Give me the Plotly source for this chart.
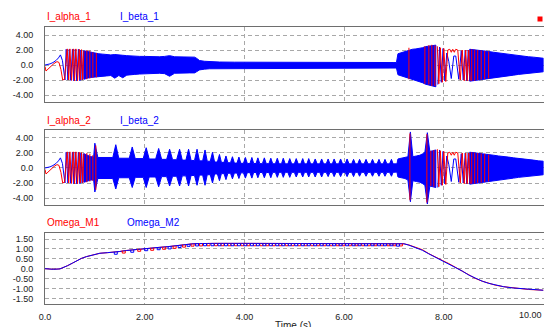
import plotly.graph_objects as go

W, H = 544, 327
RED = '#ff0000'
BLUE = '#0000ff'

# ---------------- data ----------------
# start-up transient (both drives look alike)
START_RED_T = [0.00, 0.02, 0.06, 0.12, 0.18, 0.24, 0.28, 0.32, 0.355, 0.39, 0.447, 0.475, 0.50, 0.533,
               0.567, 0.593, 0.62, 0.653, 0.687, 0.71, 0.733, 0.757, 0.78]
START_RED_V = [-0.2, -0.8, -0.55, -0.1, 0.2, 0.45, 0.35, -0.6, -2.0, -1.9, 2.15, -2.0, 2.15, -2.05,
               2.15, -2.1, 2.15, -2.1, 2.1, -2.0, 2.05, -1.95, 1.9]
START_BLUE_T = [0.00, 0.05, 0.10, 0.16, 0.22, 0.27, 0.31, 0.35, 0.40, 0.425, 0.46, 0.487, 0.517, 0.55,
                0.58, 0.607, 0.637, 0.67, 0.70, 0.72, 0.745, 0.77, 0.79]
START_BLUE_V = [0.0, 0.05, 0.15, 0.33, 0.6, 0.95, 1.35, 0.6, -2.0, 2.1, -2.0, 2.1, -2.05, 2.1,
                -2.1, 2.1, -2.1, 2.1, -2.1, 2.0, -2.0, 1.9, -1.85]

# zero-speed crossing (slow oscillation)
MID_RED_T = [7.87, 7.90, 7.93, 7.97, 8.00, 8.04, 8.08, 8.12, 8.15, 8.18, 8.21, 8.24, 8.28, 8.33,
             8.37, 8.41, 8.44, 8.47, 8.50, 8.53]
MID_RED_V = [2.5, -2.5, 2.3, -2.3, 2.2, -2.2, 2.0, 2.1, 1.7, 2.1, 1.7, 2.1, 2.0, -2.0,
             2.0, -2.1, 2.0, -2.1, 2.0, -2.1]
MID_BLUE_T = [7.88, 7.915, 7.95, 7.985, 8.02, 8.06, 8.10, 8.15, 8.20, 8.24, 8.30, 8.35, 8.39, 8.43,
              8.46, 8.49, 8.52, 8.55]
MID_BLUE_V = [-2.6, 2.4, -2.3, 2.2, -2.1, 1.6, 0.5, -1.8, 1.2, 1.2, -1.9, 1.9, -2.0, 2.0,
              -2.1, 2.0, -2.1, 2.0]

# envelope of the dense oscillation, panel 1
P1_BAND_T = [0.78, 0.85, 0.92, 1.00, 1.08, 1.16, 1.24, 1.32, 1.40, 1.48, 1.56, 1.64, 1.72, 1.80,
             1.90, 2.00, 2.10, 2.20, 2.30, 2.40, 2.50, 2.60, 2.70, 2.80, 2.90, 3.00, 3.04, 3.10,
             3.20, 3.30, 3.50, 3.80, 4.20, 4.60, 5.00, 5.40, 5.80, 6.20, 6.60, 7.00, 7.05, 7.08,
             7.15, 7.23, 7.30, 7.37, 7.44, 7.50, 7.57, 7.63, 7.70, 7.77, 7.84]
P1_BAND_UP = [1.9, 1.8, 1.65, 1.55, 1.5, 1.45, 1.4, 1.35, 1.4, 1.3, 1.3, 1.25, 1.2, 1.2,
              1.15, 1.15, 1.1, 1.1, 1.1, 1.15, 1.25, 1.1, 1.1, 1.1, 1.1, 1.05, 0.9, 0.6,
              0.5, 0.45, 0.4, 0.38, 0.36, 0.36, 0.35, 0.35, 0.35, 0.34, 0.34, 0.33, 0.33, 1.5,
              1.65, 1.8, 1.95, 2.1, 2.15, 2.2, 2.3, 2.45, 2.55, 2.6, 2.65]
P1_BAND_LO = [-1.9, -1.75, -1.65, -1.55, -1.5, -1.5, -1.45, -1.4, -1.75, -1.4, -1.7, -1.35, -1.3, -1.25,
              -1.2, -1.15, -1.15, -1.1, -1.1, -1.15, -1.5, -1.1, -1.1, -1.1, -1.05, -1.05, -0.9, -0.65,
              -0.55, -0.5, -0.45, -0.43, -0.42, -0.42, -0.42, -0.41, -0.41, -0.4, -0.4, -0.4, -0.4, -1.3,
              -1.45, -1.55, -1.7, -1.85, -2.0, -2.2, -2.35, -2.55, -2.7, -2.8, -2.9]

# envelope after the speed reversal (both panels)
END_T = [8.52, 8.60, 8.70, 8.80, 8.90, 9.00, 9.10, 9.20, 9.30, 9.40, 9.50, 9.60, 9.70, 9.80, 9.90, 10.0]
END_UP = [2.1, 2.05, 1.95, 1.9, 1.8, 1.7, 1.6, 1.55, 1.45, 1.35, 1.3, 1.2, 1.1, 1.05, 0.95, 0.9]
END_LO = [-2.15, -2.1, -2.0, -1.9, -1.8, -1.7, -1.6, -1.5, -1.45, -1.35, -1.25, -1.2, -1.1, -1.0, -0.95, -0.9]

# panel 2: beat bursts
P2_LEAD_T = [0.78, 0.85, 0.92]
P2_LEAD_UP = [1.9, 1.7, 1.5]
P2_LEAD_LO = [-1.9, -1.7, -1.6]
P2_BURST_T = [1.00, 1.42, 1.75, 2.03, 2.28, 2.50, 2.70, 2.88, 3.05, 3.21, 3.36, 3.50, 3.63, 3.76,
              3.89, 4.02, 4.15, 4.27, 4.40, 4.53, 4.66, 4.78, 4.91, 5.04, 5.17, 5.29, 5.42, 5.55,
              5.68, 5.80, 5.93, 6.06, 6.19, 6.31, 6.44, 6.57, 6.70, 6.82, 6.95]
P2_BURST_UP = [3.3, 3.1, 2.8, 2.7, 2.6, 2.5, 2.5, 2.5, 2.5, 2.4, 2.1, 1.8, 1.6, 1.5,
               1.45, 1.4, 1.4, 1.35, 1.35, 1.3, 1.3, 1.3, 1.25, 1.25, 1.25, 1.25, 1.2, 1.2,
               1.2, 1.2, 1.2, 1.2, 1.15, 1.15, 1.15, 1.15, 1.15, 1.15, 1.15]
P2_BURST_LO = [-3.2, -2.8, -2.6, -2.6, -2.5, -2.4, -2.4, -2.4, -2.3, -2.3, -2.0, -1.7, -1.55, -1.45,
               -1.4, -1.35, -1.35, -1.3, -1.3, -1.3, -1.25, -1.25, -1.25, -1.2, -1.2, -1.2, -1.2, -1.2,
               -1.15, -1.15, -1.15, -1.15, -1.15, -1.1, -1.1, -1.1, -1.1, -1.1, -1.1]
P2_GAP_UP = [1.4, 1.3, 1.25, 1.2, 1.15, 1.1, 1.05, 1.0, 0.95, 0.9, 0.8, 0.75, 0.7, 0.65,
             0.62, 0.6, 0.6, 0.58, 0.58, 0.56, 0.56, 0.55, 0.55, 0.55, 0.55, 0.55, 0.55, 0.55,
             0.55, 0.55, 0.55, 0.55, 0.55, 0.55, 0.55, 0.55, 0.55, 0.55, 0.55]
P2_GAP_LO = [-1.4, -1.3, -1.25, -1.2, -1.15, -1.1, -1.05, -1.0, -0.95, -0.9, -0.8, -0.75, -0.7, -0.68,
             -0.65, -0.62, -0.6, -0.6, -0.6, -0.58, -0.58, -0.58, -0.58, -0.58, -0.58, -0.58, -0.58, -0.58,
             -0.58, -0.58, -0.58, -0.58, -0.58, -0.58, -0.58, -0.58, -0.58, -0.58, -0.58]
P2_LATE_T = [7.06, 7.08, 7.15, 7.22, 7.28, 7.33, 7.38, 7.45, 7.52, 7.58, 7.62, 7.67, 7.72, 7.78, 7.84]
P2_LATE_UP = [0.55, 1.2, 1.3, 1.35, 1.5, 4.8, 1.5, 1.6, 1.7, 1.9, 2.1, 4.7, 2.2, 2.3, 2.4]
P2_LATE_LO = [-0.55, -1.2, -1.35, -1.4, -1.6, -4.5, -1.7, -1.8, -1.9, -2.1, -2.3, -4.8, -2.4, -2.5, -2.6]

# red (alpha) strokes visible on top of the blue mass
P1_RED_STROKE_T = [0.84, 0.90, 0.96, 1.03, 7.30, 7.62, 7.70, 7.76, 7.82, 8.56, 8.62, 8.68, 8.75, 8.82, 8.90]
P1_RED_STROKE_HI = [2.0, 1.9, 1.7, 1.6, 2.3, 2.5, 2.65, 2.7, 2.6, 2.1, 2.05, 2.0, 1.95, 1.9, 1.8]
P1_RED_STROKE_LO = [-1.9, -1.8, -1.7, -1.65, -1.9, -2.5, -2.6, -2.8, -2.8, -2.1, -2.1, -2.0, -1.95, -1.9, -1.8]
P2_RED_STROKE_T = [0.84, 0.90, 0.96, 1.02, 7.32, 7.66, 7.74, 7.80, 8.56, 8.62, 8.68, 8.75, 8.82, 8.90]
P2_RED_STROKE_HI = [2.0, 1.9, 1.7, 3.0, 4.6, 4.5, 2.3, 2.4, 2.1, 2.05, 2.0, 1.95, 1.9, 1.8]
P2_RED_STROKE_LO = [-1.9, -1.8, -1.7, -2.9, -4.3, -4.6, -2.4, -2.5, -2.1, -2.1, -2.0, -1.95, -1.9, -1.8]

# speeds
OMEGA_T = [0.00, 0.17, 0.30, 0.37, 0.45, 0.55, 0.63, 0.73, 0.83, 0.95, 1.10, 1.25, 1.37, 1.50, 1.63,
           1.80, 1.97, 2.15, 2.30, 2.45, 2.57, 2.70, 2.83, 2.97, 3.10, 3.25, 3.40, 4.00, 5.00, 6.00,
           7.00, 7.20, 7.30, 7.43, 7.57, 7.70, 7.83, 7.97, 8.10, 8.23, 8.37, 8.50, 8.63, 8.77, 8.90,
           9.03, 9.20, 9.37, 9.53, 9.70, 9.85, 10.0]
OMEGA_M1 = [0.00, -0.03, -0.01, 0.05, 0.15, 0.28, 0.39, 0.52, 0.61, 0.70, 0.78, 0.81, 0.83, 0.87, 0.92,
            0.97, 1.02, 1.05, 1.08, 1.11, 1.15, 1.19, 1.23, 1.26, 1.27, 1.28, 1.28, 1.28, 1.28, 1.28,
            1.27, 1.26, 1.20, 1.10, 0.96, 0.76, 0.58, 0.42, 0.26, 0.08, -0.12, -0.32, -0.49, -0.63, -0.74,
            -0.83, -0.91, -0.97, -1.01, -1.05, -1.07, -1.09]
OMEGA_M2 = [0.00, -0.03, -0.01, 0.05, 0.15, 0.28, 0.39, 0.52, 0.61, 0.70, 0.78, 0.81, 0.83, 0.87, 0.92,
            0.97, 1.02, 1.05, 1.08, 1.11, 1.15, 1.19, 1.23, 1.26, 1.27, 1.28, 1.28, 1.28, 1.28, 1.28,
            1.27, 1.26, 1.19, 1.06, 0.93, 0.75, 0.58, 0.42, 0.26, 0.08, -0.12, -0.32, -0.49, -0.63, -0.74,
            -0.83, -0.91, -0.97, -1.01, -1.05, -1.07, -1.09]
OMEGA_M2_NOTCH_T = [1.42, 1.75, 2.03, 2.28, 2.50, 2.70, 2.88, 3.05, 3.21, 3.36, 3.50, 3.63, 3.76, 3.89,
                    4.02, 4.15, 4.27, 4.40, 4.53, 4.66, 4.78, 4.91, 5.04, 5.17, 5.29, 5.42, 5.55, 5.68,
                    5.80, 5.93, 6.06, 6.19, 6.31, 6.44, 6.57, 6.70, 6.82, 6.95, 7.08]
OMEGA_M2_NOTCH_TOP = [0.85, 0.95, 1.03, 1.08, 1.12, 1.19, 1.25, 1.27] + [1.28] * 30 + [1.26]
OMEGA_M1_NOTCH_T = [1.58, 1.89, 2.15, 2.39, 2.60, 2.79, 2.96, 3.13, 3.28, 3.43, 3.56, 3.70, 3.83, 3.96,
                    4.08, 4.21, 4.34, 4.46, 4.59, 4.72, 4.85, 4.97, 5.10, 5.23, 5.36, 5.48, 5.61, 5.74,
                    5.87, 5.99, 6.12, 6.25, 6.38, 6.50, 6.63, 6.76, 6.89, 7.01, 7.14]
OMEGA_M1_NOTCH_TOP = [0.91, 1.00, 1.05, 1.10, 1.15, 1.21, 1.26, 1.27] + [1.28] * 30 + [1.27]
NOTCH_DEPTH = 0.12
NOTCH_HALF = 0.03

CUR_TICKS = [-4, -2, 0, 2, 4]
CUR_TICKTEXT = ['-4.00', '-2.00', '0.0', '2.00', '4.00']
OM_TICKS = [-1.5, -1.0, -0.5, 0, 0.5, 1.0, 1.5]
OM_TICKTEXT = ['-1.50', '-1.00', '-0.50', '0.0', '0.50', '1.00', '1.50']
X_TICKS = [0, 2, 4, 6, 8]
X_TICKTEXT = ['0.0', '2.00', '4.00', '6.00', '8.00']


# ---------------- helpers ----------------
def band(t, up, lo):
    n = min(len(t), len(up), len(lo))
    t, up, lo = list(t[:n]), list(up[:n]), list(lo[:n])
    return t + t[::-1] + [t[0]], up + lo[::-1] + [up[0]]


def strokes(t, hi, lo):
    xs, ys = [], []
    for a, b, c in zip(t, hi, lo):
        xs += [a, a, None]
        ys += [c, b, None]
    return xs, ys


def burst_envelope():
    T, U, L = list(P2_LEAD_T), list(P2_LEAD_UP), list(P2_LEAD_LO)
    n = len(P2_BURST_T)
    for i in range(n):
        tb = P2_BURST_T[i]
        prev_t = P2_BURST_T[i - 1] if i > 0 else P2_LEAD_T[-1]
        next_t = P2_BURST_T[i + 1] if i + 1 < n else P2_LATE_T[0]
        hl = min(0.06, 0.3 * (tb - prev_t))
        hr = min(0.06, 0.3 * (next_t - tb))
        pu = P2_GAP_UP[i - 1] if i > 0 else P2_LEAD_UP[-1]
        pl = P2_GAP_LO[i - 1] if i > 0 else P2_LEAD_LO[-1]
        T += [tb - hl, tb, tb + hr]
        U += [pu, P2_BURST_UP[i], P2_GAP_UP[i]]
        L += [pl, P2_BURST_LO[i], P2_GAP_LO[i]]
    T += P2_LATE_T
    U += P2_LATE_UP
    L += P2_LATE_LO
    return T, U, L


def notches(t, top):
    xs, ys = [], []
    for a, b in zip(t, top):
        xs += [a - NOTCH_HALF, a - NOTCH_HALF, a + NOTCH_HALF, a + NOTCH_HALF, None]
        ys += [b, b - NOTCH_DEPTH, b - NOTCH_DEPTH, b, None]
    return xs, ys


fig = go.Figure()


def line(x, y, color, xa, ya, width=1):
    fig.add_trace(go.Scatter(x=x, y=y, mode='lines', line=dict(color=color, width=width),
                             xaxis=xa, yaxis=ya, hoverinfo='skip', showlegend=False))


def fill(x, y, color, xa, ya):
    fig.add_trace(go.Scatter(x=x, y=y, mode='lines', fill='toself', fillcolor=color,
                             line=dict(color=color, width=1), xaxis=xa, yaxis=ya,
                             hoverinfo='skip', showlegend=False))


# panel 1
bx, by = band(P1_BAND_T, P1_BAND_UP, P1_BAND_LO)
fill(bx, by, BLUE, 'x', 'y')
bx, by = band(END_T, END_UP, END_LO)
fill(bx, by, BLUE, 'x', 'y')
line(START_BLUE_T, START_BLUE_V, BLUE, 'x', 'y')
line(MID_BLUE_T, MID_BLUE_V, BLUE, 'x', 'y')
line(START_RED_T, START_RED_V, RED, 'x', 'y')
line(MID_RED_T, MID_RED_V, RED, 'x', 'y')
sx, sy = strokes(P1_RED_STROKE_T, P1_RED_STROKE_HI, P1_RED_STROKE_LO)
line(sx, sy, RED, 'x', 'y')

# panel 2
T2, U2, L2 = burst_envelope()
bx, by = band(T2, U2, L2)
fill(bx, by, BLUE, 'x2', 'y2')
bx, by = band(END_T, END_UP, END_LO)
fill(bx, by, BLUE, 'x2', 'y2')
line(START_BLUE_T, START_BLUE_V, BLUE, 'x2', 'y2')
line(MID_BLUE_T, MID_BLUE_V, BLUE, 'x2', 'y2')
line(START_RED_T, START_RED_V, RED, 'x2', 'y2')
line(MID_RED_T, MID_RED_V, RED, 'x2', 'y2')
sx, sy = strokes(P2_RED_STROKE_T, P2_RED_STROKE_HI, P2_RED_STROKE_LO)
line(sx, sy, RED, 'x2', 'y2')

# panel 3
line(OMEGA_T, OMEGA_M1, RED, 'x3', 'y3')
line(OMEGA_T, OMEGA_M2, BLUE, 'x3', 'y3')
nx, ny = notches(OMEGA_M1_NOTCH_T, OMEGA_M1_NOTCH_TOP)
line(nx, ny, RED, 'x3', 'y3')
nx, ny = notches(OMEGA_M2_NOTCH_T, OMEGA_M2_NOTCH_TOP)
line(nx, ny, BLUE, 'x3', 'y3')


def py(p):
    return 1 - p / H


XDOM = [45 / W, 543.5 / W]
common = dict(showgrid=True, gridcolor='#a8a8a8', griddash='4px,3px', gridwidth=1,
              showline=True, mirror=True, linecolor='#6e6e6e', linewidth=1,
              zeroline=False, ticks='', fixedrange=True, automargin=False)
tickfont = dict(family='Liberation Sans, Arial, sans-serif', size=9, color='#222222')

layout = dict(
    template='none',
    width=W, height=H, margin=dict(l=0, r=0, t=0, b=0, pad=0), autosize=False,
    paper_bgcolor='white', plot_bgcolor='white', showlegend=False,
    xaxis=dict(domain=XDOM, range=[0, 10], tickvals=X_TICKS, showticklabels=False, anchor='y', **common),
    xaxis2=dict(domain=XDOM, range=[0, 10], tickvals=X_TICKS, showticklabels=False, anchor='y2', **common),
    xaxis3=dict(domain=XDOM, range=[0, 10], tickvals=X_TICKS, ticktext=X_TICKTEXT, anchor='y3',
                tickfont=tickfont, ticklabelstandoff=4, **common),
    yaxis=dict(domain=[py(102.3), py(27.3)], range=[-4.97, 5.03], tickvals=CUR_TICKS,
               ticktext=CUR_TICKTEXT, anchor='x', tickfont=tickfont, ticklabelstandoff=9, **common),
    yaxis2=dict(domain=[py(205.3), py(129.7)], range=[-4.97, 5.1], tickvals=CUR_TICKS,
                ticktext=CUR_TICKTEXT, anchor='x2', tickfont=tickfont, ticklabelstandoff=9, **common),
    yaxis3=dict(domain=[py(304.3), py(232.7)], range=[-1.8, 1.82], tickvals=OM_TICKS,
                ticktext=OM_TICKTEXT, anchor='x3', tickfont=tickfont, ticklabelstandoff=9, **common),
)
fig.update_layout(**layout)

lfont = 'Liberation Sans, Arial, sans-serif'
legend_items = [
    ('I_alpha_1', RED, 45, 16.5), ('I_beta_1', BLUE, 118, 16.5),
    ('I_alpha_2', RED, 45, 120), ('I_beta_2', BLUE, 118, 120),
    ('Omega_M1', RED, 45, 222.5), ('Omega_M2', BLUE, 125, 222.5),
]
for txt, col, x0, y0 in legend_items:
    fig.add_annotation(text=txt, x=x0 / W, y=py(y0), xref='paper', yref='paper',
                       xanchor='left', yanchor='middle', showarrow=False,
                       font=dict(family=lfont, size=10, color=col))

fig.add_annotation(text='10.00', x=10, y=py(315), xref='x3', yref='paper', xanchor='right',
                   yanchor='middle', showarrow=False, font=tickfont)
fig.add_annotation(text='Time (s)', x=293 / W, y=py(317.5), xref='paper', yref='paper',
                   xanchor='center', yanchor='top', showarrow=False,
                   font=dict(family=lfont, size=10, color='#222222'))
fig.add_shape(type='rect', xref='paper', yref='paper', x0=537.5 / W, x1=542.5 / W,
              y0=py(21.5), y1=py(16.5), fillcolor=RED, line=dict(width=0))

fig.write_html("out.html", config={'displayModeBar': False},
               post_script="document.body.style.margin='0';")
